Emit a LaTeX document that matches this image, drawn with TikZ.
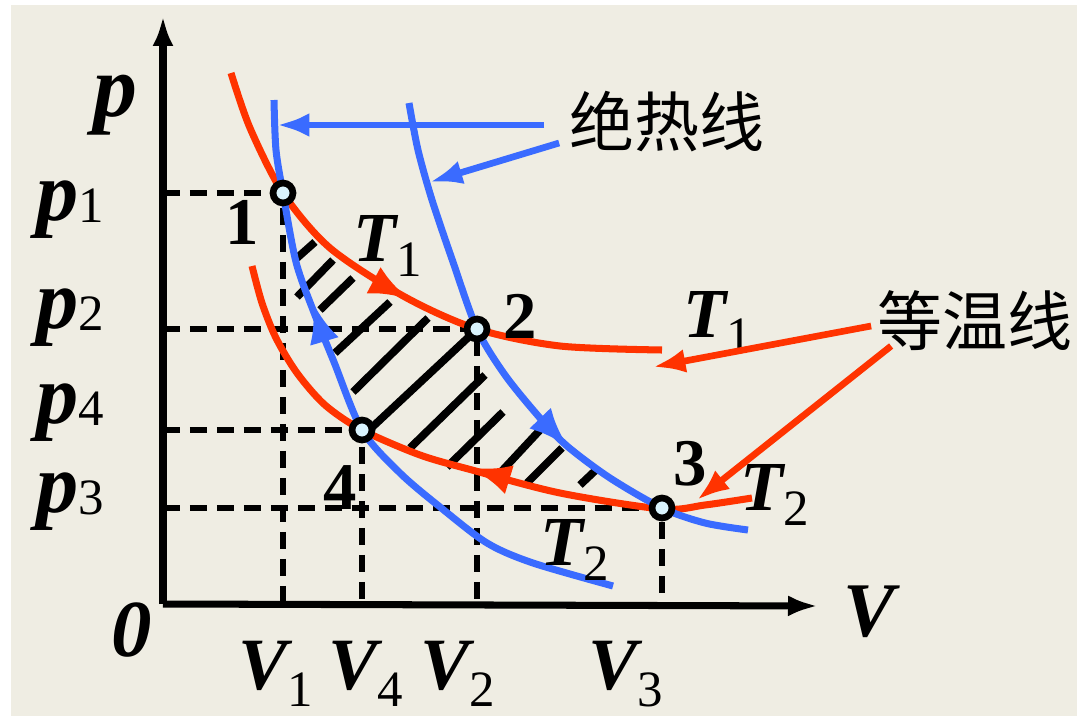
\documentclass[tikz,border=0pt]{standalone}
\usepackage{fontspec}
\setmainfont{Liberation Serif}
\newfontfamily\cjk{Noto Sans CJK SC}
\usetikzlibrary{arrows.meta, calc}

\definecolor{isored}{HTML}{FF3300}
\definecolor{adiblue}{HTML}{3A6BFF}
\definecolor{paper}{HTML}{EFEDE3}

% letter with an upright subscript
\newcommand{\varsub}[3][9pt]{{\bfseries\itshape #2}\raisebox{-#1}{\fontsize{29}{29}\selectfont #3}}

\begin{document}
\begin{tikzpicture}[x=0.02cm, y=-0.02cm]
        \tikzstyle{isotherm} = [draw=isored, line width=4pt]
        \tikzstyle{adiabat} = [draw=adiblue, line width=4pt]
        \tikzstyle{axis} = [line width=4pt, -{Latex[length=0.6cm, width=0.42cm]}]
        \tikzstyle{guide} = [line width=3.3pt, dash pattern=on 0.34cm off 0.2cm]
        \tikzstyle{hatch} = [line width=4.4pt]
        \tikzstyle{flowtip} = [-{Latex[length=0.8cm, width=0.6cm]}]
        \tikzstyle{pointer} = [line width=3.8pt, -{Latex[length=0.65cm, width=0.48cm]}]
        \tikzstyle{statept} = [circle, draw=black, line width=3.8pt, fill=white!85!cyan, minimum size=0.4cm, inner sep=0pt]
        \tikzstyle{sym} = [font=\fontsize{42}{42}\selectfont, inner sep=0pt]
        \tikzstyle{ptlabel} = [font=\fontsize{38}{38}\selectfont\bfseries, inner sep=0pt]
        \tikzstyle{cnlabel} = [font=\cjk\fontsize{37}{37}\selectfont, inner sep=0pt]

        \fill[white] (0,0) rectangle (1083,720);
        \fill[paper] (11,5) rectangle (1077,716);
        \useasboundingbox (0,0) rectangle (1083,720);

        \coordinate (O) at (163,604);
        \coordinate (ytop) at (163,16);
        \coordinate (xend) at (818,606);
        \coordinate (s1) at (283,193);
        \coordinate (s2) at (477,329);
        \coordinate (s3) at (662,508);
        \coordinate (s4) at (362,430);

        % dashed guides to the axes
        \foreach \s in {s1, s2, s3, s4}
            \draw[guide] (O |- \s) -- (\s) -- (\s |- O);

        % work area
        \foreach \xa/\ya/\xb/\yb in {297/258/315/242, 297/297/333/260, 320/310/353/278, 335/353/390/302,
                                     353/392/428/318, 367/432/473/333, 410/448/485/375, 447/467/503/412,
                                     500/473/540/430, 527/483/562/448, 580/485/598/468}
            \draw[hatch] (\xa,\ya) -- (\xb,\yb);

        \draw[axis] (O) -- (ytop);
        \draw[axis] (O) -- (xend);

        % isotherms
        \draw[isotherm] plot[smooth] coordinates {(231,73) (250,128) (283,193) (330,248) (405,297) (477,329) (560,346) (662,350)};
        \draw[isotherm] plot[smooth] coordinates {(252,266) (262,303) (276,338) (297,373) (325,405) (362,430) (420,455) (472,470) (560,493) (662,509) (705,505) (752,498)};
        % adiabats
        \draw[adiabat] plot[smooth] coordinates {(274,100) (276,150) (283,193) (296,262) (313,310) (334,362) (362,430) (400,473) (440,507) (487,543) (533,563) (613,586)};
        \draw[adiabat] plot[smooth] coordinates {(409,103) (418,150) (432,200) (453,262) (477,329) (505,375) (540,418) (567,446) (610,478) (662,508) (705,523) (748,530)};

        % direction of the cycle
        \draw[isotherm, flowtip] (375,281) -- (409,299);
        \draw[isotherm, flowtip] (507,479) -- (471,468);
        \draw[adiabat, flowtip] (324,340) -- (313,303);
        \draw[adiabat, flowtip] (540,418) -- (568,447);

        \node[statept] (pt1) at (s1) {};
        \node[statept] (pt2) at (s2) {};
        \node[statept] (pt3) at (s3) {};
        \node[statept] (pt4) at (s4) {};

        \node[ptlabel] (lab1) at (242,222) {1};
        \node[ptlabel] (lab2) at (520,316) {2};
        \node[ptlabel] (lab3) at (690,464) {3};
        \node[ptlabel] (lab4) at (340,488) {4};

        % axis labels
        \node[sym, font=\fontsize{50}{50}\selectfont] (plab) at (115,105) {\textbf{\textit{p}}};
        \node[sym, font=\fontsize{48}{48}\selectfont] (p1lab) at (70,210) {\varsub[1pt]{p}{1}};
        \node[sym, font=\fontsize{48}{48}\selectfont] (p2lab) at (70,318) {\varsub[1pt]{p}{2}};
        \node[sym, font=\fontsize{48}{48}\selectfont] (p4lab) at (70,413) {\varsub[1pt]{p}{4}};
        \node[sym, font=\fontsize{48}{48}\selectfont] (p3lab) at (70,502) {\varsub[1pt]{p}{3}};
        \node[sym, font=\fontsize{46}{46}\selectfont] (zero) at (132,630) {\textbf{\textit{0}}};
        \node[sym, font=\fontsize{44}{44}\selectfont] (vlab) at (872,612) {\textbf{\textit{V}}};
        \node[sym] (v1lab) at (276,674) {\varsub[10pt]{V}{1}};
        \node[sym] (v4lab) at (366,674) {\varsub[10pt]{V}{4}};
        \node[sym] (v2lab) at (458,674) {\varsub[10pt]{V}{2}};
        \node[sym] (v3lab) at (626,674) {\varsub[10pt]{V}{3}};

        % temperatures
        \node[sym, font=\fontsize{40}{40}\selectfont] (t1a) at (388,246) {\varsub[8pt]{T}{1}};
        \node[sym, font=\fontsize{40}{40}\selectfont] (t1b) at (718,322) {\varsub[8pt]{T}{1}};
        \node[sym, font=\fontsize{40}{40}\selectfont] (t2a) at (575,550) {\varsub[8pt]{T}{2}};
        \node[sym, font=\fontsize{40}{40}\selectfont] (t2b) at (775,495) {\varsub[8pt]{T}{2}};

        % callouts
        \node[cnlabel] (adlabel) at (667,122) {绝热线};
        \node[cnlabel] (itlabel) at (975,321) {等温线};
        \coordinate (adtipA) at (277,125);
        \coordinate (adtipB) at (430,182);
        \coordinate (ittipA) at (653,367);
        \coordinate (ittipB) at (697,500);
        \draw[pointer, adiblue] ($(adlabel.west)+(-25,3)$) -- (adtipA);
        \draw[pointer, adiblue] ($(adlabel.west)+(-10,21)$) -- (adtipB);
        \draw[pointer, isored] ($(itlabel.west)+(-6,5)$) -- (ittipA);
        \draw[pointer, isored] ($(itlabel.west)+(14,25)$) -- (ittipB);
\end{tikzpicture}
\end{document}
